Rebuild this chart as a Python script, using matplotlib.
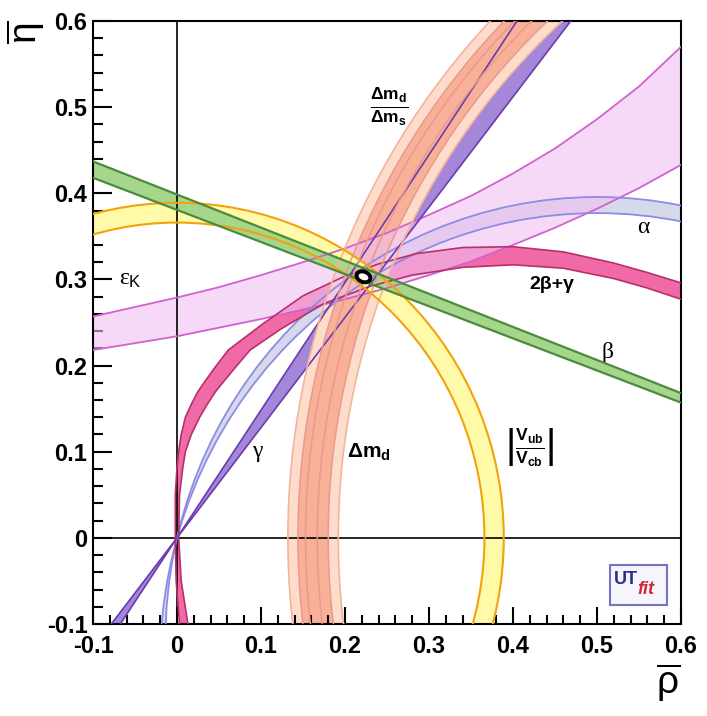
import numpy as np
import matplotlib
matplotlib.use("Agg")
import matplotlib.pyplot as plt
from matplotlib import patches as mpatches
from matplotlib.path import Path
from matplotlib.ticker import MultipleLocator

plt.rcParams['font.family'] = ['Liberation Sans', 'DejaVu Sans']
plt.rcParams['mathtext.fontset'] = 'custom'
plt.rcParams['mathtext.rm'] = 'Liberation Sans'
plt.rcParams['mathtext.it'] = 'Liberation Serif'
plt.rcParams['mathtext.bf'] = 'Liberation Sans:bold'

# ---- constraints in the (rho, eta) plane ----
# |Vub/Vcb| : ring centred on (0,0)
vub_radius = [0.366, 0.389]
# dm_d : rings centred on (1,0)
dmd_radius_95 = [0.808, 0.868]
dmd_radius_68 = [0.820, 0.856]
dms_radius = [0.833, 0.847]
# gamma : wedge from the origin (degrees)
gamma_angle = [52.0, 56.0]
# beta : band edges at the two ends of the rho range
beta_rho = [-0.1, 0.6]
beta_eta_lo = [0.418, 0.157]
beta_eta_hi = [0.437, 0.168]
# alpha : circles through (0,0) and (1,0)
alpha_center_eta = [-0.118, -0.143]
alpha_radius = [0.5137, 0.5200]
# 2beta+gamma edges
tg_hi_rho = [0.003, -0.001, -0.002, -0.002, 0.000, 0.002, 0.005, 0.010, 0.017, 0.025,
             0.043, 0.061, 0.103, 0.150, 0.198, 0.240, 0.285, 0.340, 0.400, 0.460,
             0.520, 0.560, 0.600]
tg_hi_eta = [-0.100, -0.050, 0.000, 0.050, 0.082, 0.100, 0.120, 0.140, 0.155, 0.170,
             0.195, 0.218, 0.249, 0.281, 0.303, 0.318, 0.330, 0.337, 0.338, 0.332,
             0.319, 0.308, 0.296]
tg_lo_rho = [0.013, 0.005, 0.002, 0.003, 0.007, 0.010, 0.017, 0.027, 0.036, 0.046,
             0.067, 0.087, 0.123, 0.175, 0.230, 0.280, 0.340, 0.400, 0.460, 0.520,
             0.560, 0.600]
tg_lo_eta = [-0.100, -0.050, 0.000, 0.050, 0.082, 0.100, 0.120, 0.140, 0.155, 0.170,
             0.195, 0.218, 0.242, 0.272, 0.292, 0.305, 0.314, 0.317, 0.313, 0.301,
             0.290, 0.277]
# eps_K edges
ek_rho = [-0.10, -0.05, 0.00, 0.05, 0.10, 0.15, 0.20, 0.25,
          0.30, 0.35, 0.40, 0.45, 0.50, 0.55, 0.60]
ek_hi = [0.257, 0.268, 0.279, 0.291, 0.305, 0.320, 0.336, 0.354,
         0.375, 0.397, 0.423, 0.452, 0.486, 0.524, 0.570]
ek_lo = [0.218, 0.226, 0.234, 0.244, 0.254, 0.265, 0.277, 0.290,
         0.305, 0.321, 0.340, 0.360, 0.382, 0.406, 0.433]
# best fit point
best_rho, best_eta = 0.222, 0.303

xticks = [-0.1, 0.0, 0.1, 0.2, 0.3, 0.4, 0.5, 0.6]
xlabels = ['-0.1', '0', '0.1', '0.2', '0.3', '0.4', '0.5', '0.6']
yticks = [-0.1, 0.0, 0.1, 0.2, 0.3, 0.4, 0.5, 0.6]
ylabels = ['-0.1', '0', '0.1', '0.2', '0.3', '0.4', '0.5', '0.6']


def between_circles(c1, r1, c2, r2):
    # region between two circles: second one reversed so the overlap cancels
    p1 = Path.circle(c1, r1)
    p2 = Path.circle(c2, r2)
    v = p2.vertices[:-1][::-1]
    v = np.vstack([v, v[:1]])
    return Path.make_compound_path(p1, Path(v, p2.codes))


fig = plt.figure(figsize=(7.07, 7.16), dpi=100)
ax = fig.add_axes([93 / 707, 92 / 716, 588 / 707, 603 / 716])

# fills
ax.add_patch(mpatches.PathPatch(
    between_circles((0.5, alpha_center_eta[0]), alpha_radius[0],
                    (0.5, alpha_center_eta[1]), alpha_radius[1]),
    facecolor='#d5d9ea', edgecolor='none', zorder=1.0))

ax.fill(np.r_[tg_hi_rho, tg_lo_rho[::-1]], np.r_[tg_hi_eta, tg_lo_eta[::-1]],
        facecolor='#f06aa8', edgecolor='none', zorder=1.1)

for a0 in (0, 180):
    ax.add_patch(mpatches.Wedge((0, 0), 1.2, gamma_angle[0] + a0, gamma_angle[1] + a0,
                                facecolor='#a487d8', edgecolor='none', zorder=1.2))

ax.add_patch(mpatches.Wedge((1, 0), dmd_radius_95[1], 90, 270,
                            width=dmd_radius_95[1] - dmd_radius_95[0],
                            facecolor='#fddccb', edgecolor='none', zorder=1.3))
ax.add_patch(mpatches.Wedge((1, 0), dmd_radius_68[1], 90, 270,
                            width=dmd_radius_68[1] - dmd_radius_68[0],
                            facecolor='#f8b098', edgecolor='none', zorder=1.4))

ax.fill(np.r_[ek_rho, ek_rho[::-1]], np.r_[ek_hi, ek_lo[::-1]],
        facecolor='#f0c0f0', alpha=0.6, edgecolor='none', zorder=1.6)

ax.add_patch(mpatches.Wedge((0, 0), vub_radius[1], 0, 360,
                            width=vub_radius[1] - vub_radius[0],
                            facecolor='#fffaa8', edgecolor='none', zorder=1.7))

ax.fill_between(beta_rho, beta_eta_lo, beta_eta_hi, facecolor='#a5d68c',
                edgecolor='none', zorder=1.8)

# axes through the origin
ax.axhline(0, color='black', lw=1.2, zorder=2.5)
ax.axvline(0, color='black', lw=1.2, zorder=2.5)

# contour lines
ax.plot(ek_rho, ek_hi, color='#d062d0', lw=1.3, zorder=3.0)
ax.plot(ek_rho, ek_lo, color='#d062d0', lw=1.3, zorder=3.0)

for k, r in zip(alpha_center_eta, alpha_radius):
    ax.add_patch(mpatches.Circle((0.5, k), r, fill=False, edgecolor='#8c8ce6',
                                 lw=1.3, zorder=3.1))

ax.plot(tg_hi_rho, tg_hi_eta, color='#b83068', lw=1.2, zorder=3.2)
ax.plot(tg_lo_rho, tg_lo_eta, color='#b83068', lw=1.2, zorder=3.2)

for a0 in (0, 180):
    ax.add_patch(mpatches.Wedge((0, 0), 1.2, gamma_angle[0] + a0, gamma_angle[1] + a0,
                                fill=False, edgecolor='#6a3cae', lw=1.2, zorder=3.3))

for r in dmd_radius_95:
    ax.add_patch(mpatches.Arc((1, 0), 2 * r, 2 * r, theta1=90, theta2=270,
                              edgecolor='#f4b49c', lw=1.2, zorder=3.4))
for r in dmd_radius_68 + dms_radius:
    ax.add_patch(mpatches.Arc((1, 0), 2 * r, 2 * r, theta1=90, theta2=270,
                              edgecolor='#e99a8c', lw=1.1, zorder=3.4))

for r in vub_radius:
    ax.add_patch(mpatches.Arc((0, 0), 2 * r, 2 * r, theta1=0, theta2=360,
                              edgecolor='#f2a20c', lw=1.5, zorder=3.5))

ax.plot(beta_rho, beta_eta_lo, color='#4b8b3b', lw=1.6, zorder=3.6)
ax.plot(beta_rho, beta_eta_hi, color='#4b8b3b', lw=1.6, zorder=3.6)

# best fit
ax.add_patch(mpatches.Ellipse((best_rho, best_eta), 0.017, 0.012, angle=-20,
                              facecolor='white', edgecolor='black', lw=2.8, zorder=5))

# labels on the constraints
ax.text(-0.055, 0.300, r'$\varepsilon_{\mathrm{K}}$', fontsize=17, ha='center', va='center')
ax.text(0.253, 0.500, r'$\frac{\mathbf{\Delta m}_\mathbf{d}}{\mathbf{\Delta m}_\mathbf{s}}$',
        fontsize=18, ha='center', va='center')
ax.text(0.555, 0.360, 'α', family='Liberation Serif', fontsize=17, ha='center', va='center')
ax.text(0.446, 0.294, '2β+γ', fontweight='bold', fontsize=14, ha='center', va='center')
ax.text(0.512, 0.215, 'β', family='Liberation Serif', fontsize=17, ha='center', va='center')
ax.text(0.096, 0.100, 'γ', family='Liberation Serif', fontsize=17, ha='center', va='center')
ax.text(0.228, 0.100, r'$\mathbf{\Delta m}_\mathbf{d}$', fontsize=15, ha='center', va='center')
ax.text(0.420, 0.104, r'$\left|\frac{\mathbf{V}_\mathbf{ub}}{\mathbf{V}_\mathbf{cb}}\right|$',
        fontsize=18, ha='center', va='center')

# UTfit badge
ax.add_patch(mpatches.Rectangle((0.879, 0.032), 0.097, 0.066, transform=ax.transAxes,
                                facecolor='#f5f5fb', edgecolor='#7474c2', lw=1.5, zorder=6))
ax.text(0.886, 0.066, 'UT', transform=ax.transAxes, color='#2b2b8c', fontweight='bold',
        fontsize=13, ha='left', va='baseline', zorder=7)
ax.text(0.926, 0.049, 'fit', transform=ax.transAxes, color='#d02a3a', fontweight='bold',
        fontstyle='italic', fontsize=13, ha='left', va='baseline', zorder=7)

ax.set_xlim(-0.1, 0.6)
ax.set_ylim(-0.1, 0.6)
ax.set_xticks(xticks)
ax.set_xticklabels(xlabels, fontsize=17, fontweight='bold')
ax.set_yticks(yticks)
ax.set_yticklabels(ylabels, fontsize=17, fontweight='bold')
ax.xaxis.set_minor_locator(MultipleLocator(0.02))
ax.yaxis.set_minor_locator(MultipleLocator(0.02))
ax.tick_params(which='both', direction='in', top=False, right=False, width=1.5)
ax.tick_params(axis='y', which='major', length=14, pad=4)
ax.tick_params(axis='y', which='minor', length=7)
ax.tick_params(axis='x', which='major', length=12, pad=8)
ax.tick_params(axis='x', which='minor', length=6.5)
for s in ax.spines.values():
    s.set_linewidth(1.5)

fig.text(0.036, 0.955, r'$\overline{\mathrm{\eta}}$', fontsize=28, rotation=90,
         ha='center', va='center')
fig.text(0.945, 0.046, r'$\overline{\mathrm{\rho}}$', fontsize=28, ha='center', va='center')

fig.savefig('out.png', dpi=100)
